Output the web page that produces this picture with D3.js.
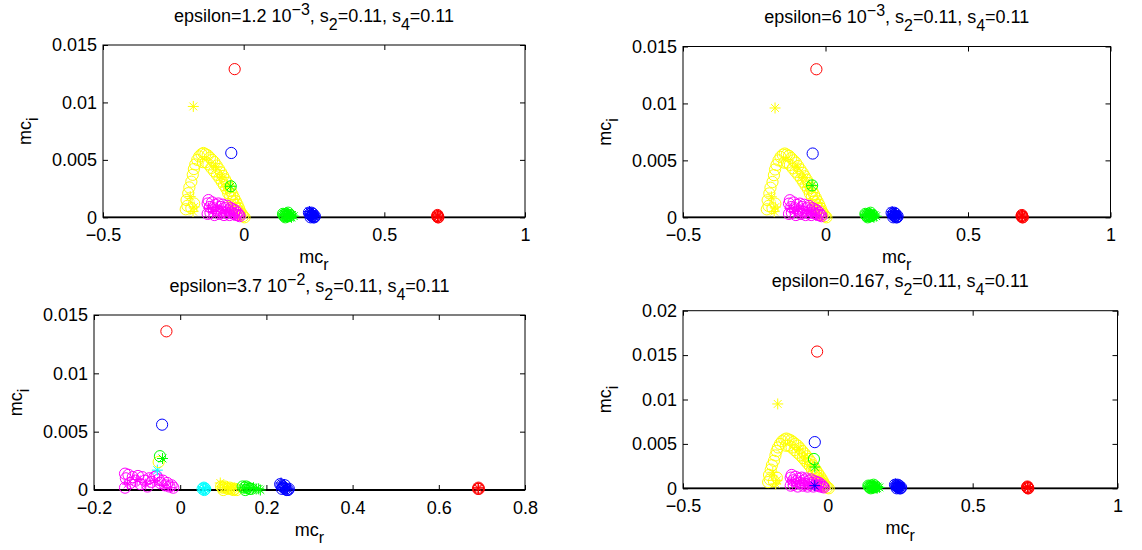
<!DOCTYPE html>
<html>
<head>
<meta charset="utf-8">
<title>mc_r vs mc_i</title>
<style>
  body { margin: 0; background: #fff; }
  svg text { font-family: "Liberation Sans", Arial, sans-serif; fill: #000; }
  .axis path.domain { display: none; }
  .axis line { stroke: #000; }
  .axis text { font-size: 18px; }
</style>
</head>
<body>
<script src="https://d3js.org/d3.v7.min.js"></script>
<script>
// ---- tick values / labels ----
var xTicksWide = [-0.5, 0, 0.5, 1];
var xLabelsWide = ["\u22120.5", "0", "0.5", "1"];
var xTicksNarrow = [-0.2, 0, 0.2, 0.4, 0.6, 0.8];
var xLabelsNarrow = ["\u22120.2", "0", "0.2", "0.4", "0.6", "0.8"];
var yTicks15 = [0, 0.005, 0.01, 0.015];
var yLabels15 = ["0", "0.005", "0.01", "0.015"];
var yTicks20 = [0, 0.005, 0.01, 0.015, 0.02];
var yLabels20 = ["0", "0.005", "0.01", "0.015", "0.02"];

// ---- titles: [epsilon text, exponent] ----
var titleEps = ["1.2 10", "6 10", "3.7 10", "0.167"];
var titleExp = ["\u22123", "\u22123", "\u22122", ""];

// ---- clusters shared by panels 1, 2 and 4 ----
var yellowArcCircles = [
  [-0.206, 0.0007], [-0.200, 0.0010], [-0.203, 0.0015], [-0.197, 0.0021], [-0.193, 0.0026],
  [-0.186, 0.0031], [-0.181, 0.0037], [-0.177, 0.0042], [-0.172, 0.0046], [-0.165, 0.0050],
  [-0.158, 0.0053], [-0.150, 0.0055], [-0.143, 0.0056], [-0.136, 0.0055], [-0.186, 0.0008],
  [-0.176, 0.0012], [-0.145, 0.0048], [-0.135, 0.0048], [-0.125, 0.0046],
  [-0.128, 0.0054], [-0.120, 0.0052], [-0.112, 0.0050], [-0.104, 0.0048],
  [-0.096, 0.0045], [-0.088, 0.0042], [-0.080, 0.0039], [-0.073, 0.0036], [-0.066, 0.0033],
  [-0.059, 0.0030], [-0.052, 0.0026], [-0.046, 0.0023], [-0.040, 0.0020], [-0.034, 0.0017],
  [-0.028, 0.0014], [-0.022, 0.0011], [-0.017, 0.0008], [-0.012, 0.0005], [-0.007, 0.0003],
  [-0.002, 0.0001], [0.003, 0.0000], [-0.115, 0.0043], [-0.105, 0.0040], [-0.095, 0.0037],
  [-0.086, 0.0034], [-0.078, 0.0031], [-0.070, 0.0028], [-0.062, 0.0025], [-0.055, 0.0021],
  [-0.048, 0.0018], [-0.040, 0.0014], [-0.033, 0.0011], [-0.026, 0.0008], [-0.019, 0.0005],
  [-0.012, 0.0002]
];
var yellowArcStars = [
  [-0.180, 0.0005], [-0.176, 0.0009], [-0.190, 0.0018], [-0.100, 0.0044], [-0.080, 0.0035],
  [-0.060, 0.0027], [-0.030, 0.0012]
];
var magentaCircles = [
  [-0.128, 0.0012], [-0.125, 0.0015], [-0.120, 0.0009], [-0.128, 0.0003], [-0.118, 0.0004],
  [-0.112, 0.0013], [-0.108, 0.0008], [-0.104, 0.0002], [-0.100, 0.0011], [-0.095, 0.0006],
  [-0.090, 0.0012], [-0.086, 0.0003], [-0.082, 0.0009], [-0.078, 0.0005], [-0.074, 0.0011],
  [-0.070, 0.0002], [-0.066, 0.0008], [-0.062, 0.0004], [-0.058, 0.0010], [-0.054, 0.0006],
  [-0.050, 0.0002], [-0.046, 0.0008], [-0.042, 0.0004], [-0.038, 0.0007], [-0.034, 0.0003],
  [-0.030, 0.0006], [-0.026, 0.0002], [-0.022, 0.0004], [-0.018, 0.0002], [-0.014, 0.0001]
];
var magentaStars = [
  [-0.125, 0.0008], [-0.110, 0.0005], [-0.095, 0.0009], [-0.080, 0.0003], [-0.065, 0.0006],
  [-0.050, 0.0004], [-0.035, 0.0002], [-0.022, 0.0001]
];
var greenBlobCircles = [
  [0.140, 0.0003], [0.145, 0.0001], [0.150, 0.0003], [0.155, 0.0002], [0.160, 0.0001],
  [0.165, 0.0002], [0.148, 0.0000], [0.158, 0.0004], [0.142, 0.0002], [0.152, 0.0001]
];
var greenBlobStars = [
  [0.145, 0.0002], [0.150, 0.0002], [0.153, 0.0002], [0.157, 0.0003], [0.160, 0.0003],
  [0.166, 0.0001], [0.172, 0.0002], [0.178, 0.0001], [0.170, 0.0000], [0.156, 0.0000]
];
var blueBlobCircles = [
  [0.232, 0.0004], [0.236, 0.0003], [0.239, 0.0002], [0.242, 0.0001], [0.245, 0.0001],
  [0.248, 0.0000], [0.251, 0.0000], [0.238, 0.0000], [0.246, 0.0003], [0.253, 0.0001],
  [0.241, 0.0004]
];
var blueBlobStars = [
  [0.234, 0.0005], [0.238, 0.0002], [0.240, 0.0002], [0.243, 0.0002], [0.245, 0.0001],
  [0.248, 0.0002], [0.250, 0.0001], [0.244, 0.0003]
];
var redBlobCircles = [[0.688, 0.0001], [0.690, 0.0001], [0.692, 0.0000], [0.689, 0.0002], [0.691, 0.0000]];
var redBlobStars = [[0.689, 0.0001], [0.691, 0.0001], [0.690, 0.0002], [0.690, 0.0000]];

// ---- outliers, panels 1 / 2 / 4 ----
var p1Red = [[-0.032, 0.0129]], p1Blue = [[-0.044, 0.0056]], p1Green = [[-0.046, 0.0027]], p1YellowStar = [[-0.179, 0.00965]];
var p2Red = [[-0.032, 0.0130]], p2Blue = [[-0.045, 0.0056]], p2Green = [[-0.047, 0.0028]], p2YellowStar = [[-0.177, 0.0096]];
var p4Red = [[-0.037, 0.0154]], p4Blue = [[-0.045, 0.0052]], p4GreenCircle = [[-0.048, 0.0033]],
    p4GreenStar = [[-0.045, 0.0024]], p4BlueStar = [[-0.045, 0.0003]], p4YellowStar = [[-0.173, 0.0095]];

// ---- panel 3 ----
var p3MagentaCircles = [
  [-0.128, 0.0014], [-0.126, 0.0010], [-0.128, 0.0002], [-0.120, 0.0013], [-0.116, 0.0006],
  [-0.110, 0.0011], [-0.104, 0.0008], [-0.098, 0.0012], [-0.092, 0.0005], [-0.088, 0.0011],
  [-0.082, 0.0008], [-0.076, 0.0003], [-0.072, 0.0010], [-0.066, 0.0007], [-0.060, 0.0011],
  [-0.055, 0.0012], [-0.050, 0.0009], [-0.046, 0.0006], [-0.040, 0.0008], [-0.035, 0.0004],
  [-0.030, 0.0006], [-0.025, 0.0003], [-0.020, 0.0004], [-0.016, 0.0002]
];
var p3MagentaStars = [[-0.122, 0.0005], [-0.100, 0.0009], [-0.080, 0.0005], [-0.060, 0.0008], [-0.040, 0.0004], [-0.022, 0.0002]];
var p3CyanCircles = [[0.052, 0.0001], [0.055, 0.0002], [0.058, 0.0001], [0.056, 0.0000]];
var p3CyanStars = [[0.055, 0.0002], [0.059, 0.0001], [0.053, 0.0000], [-0.053, 0.0017]];
var p3YellowCircles = [
  [0.095, 0.0003], [0.099, 0.0002], [0.103, 0.0003], [0.107, 0.0002], [0.111, 0.0001],
  [0.115, 0.0002], [0.119, 0.0001], [0.123, 0.0000], [0.127, 0.0001], [0.131, 0.0000],
  [0.100, 0.0000], [-0.050, 0.0024]
];
var p3YellowStars = [[0.093, 0.0006], [0.102, 0.0002], [0.110, 0.0003], [0.118, 0.0001], [0.125, 0.0002]];
var p3GreenCircles = [
  [0.145, 0.0003], [0.149, 0.0002], [0.153, 0.0003], [0.157, 0.0002], [0.161, 0.0001],
  [0.165, 0.0001], [0.151, 0.0000], [-0.047, 0.0029]
];
var p3GreenStars = [[0.150, 0.0002], [0.155, 0.0001], [0.160, 0.0002], [0.170, 0.0002], [0.176, 0.0001], [0.182, 0.0001], [0.186, 0.0000], [-0.041, 0.0027]];
var p3BlueCircles = [
  [0.232, 0.0005], [0.235, 0.0004], [0.238, 0.0003], [0.241, 0.0002], [0.244, 0.0001],
  [0.247, 0.0000], [0.250, 0.0000], [0.236, 0.0001], [0.243, 0.0004], [0.252, 0.0001],
  [-0.042, 0.0056]
];
var p3BlueStars = [[0.234, 0.0006], [0.240, 0.0002], [0.243, 0.0002], [0.246, 0.0001], [0.249, 0.0001]];
var p3RedCircles = [[0.691, 0.0001], [0.693, 0.0001], [0.692, 0.0002], [-0.032, 0.0136]];
var p3RedStars = [[0.692, 0.0001], [0.691, 0.0002]];

var Y = "#ffff00", M = "#ff00ff", G = "#00ff00", B = "#0000ff", R = "#ff0000", C = "#00ffff";

// series per panel: [points, colour, marker]
var panels = [
  { box: [103, 45, 525, 217.3], xd: [-0.5, 1], yd: [0, 0.015], xt: xTicksWide, xl: xLabelsWide, yt: yTicks15, yl: yLabels15,
    series: [[yellowArcCircles, Y, "o"], [yellowArcStars, Y, "*"], [p1YellowStar, Y, "*"], [magentaCircles, M, "o"], [magentaStars, M, "*"],
             [greenBlobCircles, G, "o"], [greenBlobStars, G, "*"], [p1Green, G, "o"], [p1Green, G, "*"],
             [blueBlobCircles, B, "o"], [blueBlobStars, B, "*"], [p1Blue, B, "o"],
             [redBlobCircles, R, "o"], [redBlobStars, R, "*"], [p1Red, R, "o"]] },
  { box: [683, 46.5, 1110.5, 217.3], xd: [-0.5, 1], yd: [0, 0.015], xt: xTicksWide, xl: xLabelsWide, yt: yTicks15, yl: yLabels15,
    series: [[yellowArcCircles, Y, "o"], [yellowArcStars, Y, "*"], [p2YellowStar, Y, "*"], [magentaCircles, M, "o"], [magentaStars, M, "*"],
             [greenBlobCircles, G, "o"], [greenBlobStars, G, "*"], [p2Green, G, "o"], [p2Green, G, "*"],
             [blueBlobCircles, B, "o"], [blueBlobStars, B, "*"], [p2Blue, B, "o"],
             [redBlobCircles, R, "o"], [redBlobStars, R, "*"], [p2Red, R, "o"]] },
  { box: [94, 315, 525, 490], xd: [-0.2, 0.8], yd: [0, 0.015], xt: xTicksNarrow, xl: xLabelsNarrow, yt: yTicks15, yl: yLabels15,
    series: [[p3MagentaCircles, M, "o"], [p3MagentaStars, M, "*"], [p3CyanCircles, C, "o"], [p3CyanStars, C, "*"],
             [p3YellowCircles, Y, "o"], [p3YellowStars, Y, "*"], [p3GreenCircles, G, "o"], [p3GreenStars, G, "*"],
             [p3BlueCircles, B, "o"], [p3BlueStars, B, "*"], [p3RedCircles, R, "o"], [p3RedStars, R, "*"]] },
  { box: [683, 310.7, 1117.5, 488.3], xd: [-0.5, 1], yd: [0, 0.02], xt: xTicksWide, xl: xLabelsWide, yt: yTicks20, yl: yLabels20,
    series: [[yellowArcCircles, Y, "o"], [yellowArcStars, Y, "*"], [p4YellowStar, Y, "*"], [magentaCircles, M, "o"], [magentaStars, M, "*"],
             [p4BlueStar, B, "*"], [greenBlobCircles, G, "o"], [greenBlobStars, G, "*"], [p4GreenCircle, G, "o"], [p4GreenStar, G, "*"],
             [blueBlobCircles, B, "o"], [blueBlobStars, B, "*"], [p4Blue, B, "o"],
             [redBlobCircles, R, "o"], [redBlobStars, R, "*"], [p4Red, R, "o"]] }
];

var starPath = "M-5.5,0H5.5M0,-5.5V5.5M-3.9,-3.9L3.9,3.9M-3.9,3.9L3.9,-3.9";

var svg = d3.select("body").append("svg")
  .attr("width", 1142).attr("height", 550);

panels.forEach(function(p, i) {
  var l = p.box[0], t = p.box[1], r = p.box[2], b = p.box[3];
  var x = d3.scaleLinear().domain(p.xd).range([l, r]);
  var y = d3.scaleLinear().domain(p.yd).range([b, t]);
  var g = svg.append("g");

  // ticks (inside, mirrored on all four sides)
  g.append("g").attr("class", "axis").attr("transform", "translate(0," + b + ")")
    .call(d3.axisBottom(x).tickValues(p.xt).tickSize(-5).tickPadding(11).tickFormat(function(d, k) { return p.xl[k]; }));
  g.append("g").attr("class", "axis").attr("transform", "translate(0," + t + ")")
    .call(d3.axisTop(x).tickValues(p.xt).tickSize(-5).tickFormat(""));
  g.append("g").attr("class", "axis").attr("transform", "translate(" + l + ",0)")
    .call(d3.axisLeft(y).tickValues(p.yt).tickSize(-5).tickPadding(6).tickFormat(function(d, k) { return p.yl[k]; }));
  g.append("g").attr("class", "axis").attr("transform", "translate(" + r + ",0)")
    .call(d3.axisRight(y).tickValues(p.yt).tickSize(-5).tickFormat(""));

  // box
  g.append("rect").attr("x", l).attr("y", t).attr("width", r - l).attr("height", b - t)
    .attr("fill", "none").attr("stroke", "#000").attr("stroke-width", 1);
  g.append("line").attr("x1", l).attr("x2", r).attr("y1", b).attr("y2", b)
    .attr("stroke", "#000").attr("stroke-width", 1.8);

  // markers
  p.series.forEach(function(s) {
    if (s[2] === "o") {
      g.selectAll(null).data(s[0]).join("circle")
        .attr("cx", function(d) { return x(d[0]); })
        .attr("cy", function(d) { return y(d[1]); })
        .attr("r", 5.6).attr("fill", "none").attr("stroke", s[1]).attr("stroke-width", 1);
    } else {
      g.selectAll(null).data(s[0]).join("path")
        .attr("transform", function(d) { return "translate(" + x(d[0]) + "," + y(d[1]) + ")"; })
        .attr("d", starPath).attr("fill", "none").attr("stroke", s[1]).attr("stroke-width", 1);
    }
  });

  // title
  var cx = (l + r) / 2;
  var title = g.append("text").attr("x", cx).attr("y", t - 23.5)
    .attr("text-anchor", "middle").style("font-size", "18px");
  title.append("tspan").text("epsilon=" + titleEps[i]);
  if (titleExp[i]) {
    title.append("tspan").attr("dy", -7).style("font-size", "16px").text(titleExp[i]);
    title.append("tspan").attr("dy", 7).text(", s");
  } else {
    title.append("tspan").text(", s");
  }
  title.append("tspan").attr("dy", 8).style("font-size", "16px").text("2");
  title.append("tspan").attr("dy", -8).text("=0.11, s");
  title.append("tspan").attr("dy", 8).style("font-size", "16px").text("4");
  title.append("tspan").attr("dy", -8).text("=0.11");

  // x label
  var xl = g.append("text").attr("x", cx).attr("y", b + 46)
    .attr("text-anchor", "middle").style("font-size", "18px");
  xl.append("tspan").text("mc");
  xl.append("tspan").attr("dy", 7).style("font-size", "16px").text("r");

  // y label
  var yl = g.append("text")
    .attr("transform", "translate(" + (l - 72.5) + "," + ((t + b) / 2) + ") rotate(-90)")
    .attr("text-anchor", "middle").style("font-size", "18px");
  yl.append("tspan").text("mc");
  yl.append("tspan").attr("dy", 7).style("font-size", "16px").text("i");
});
</script>
</body>
</html>
